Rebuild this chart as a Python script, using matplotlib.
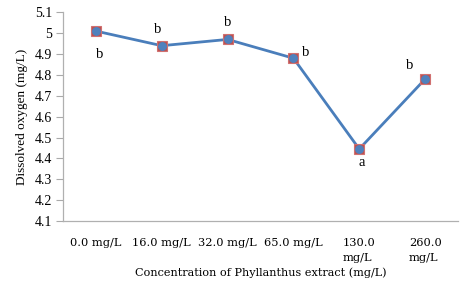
import matplotlib
matplotlib.use("Agg")
import matplotlib.pyplot as plt

categories = ["0.0 mg/L", "16.0 mg/L", "32.0 mg/L", "65.0 mg/L", "130.0\nmg/L", "260.0\nmg/L"]
values = [5.01, 4.94, 4.97, 4.88, 4.445, 4.78]
letters = ["b", "b", "b", "b", "a", "b"]
yticks = [4.1, 4.2, 4.3, 4.4, 4.5, 4.6, 4.7, 4.8, 4.9, 5.0, 5.1]

plt.rcParams['font.family'] = ['Liberation Serif', 'DejaVu Serif']

fig = plt.figure(figsize=(4.64, 2.86), dpi=100)
ax = fig.add_axes([63/464, 1-221/286, (458-63)/464, (221-12.3)/286])

x = list(range(len(categories)))
ax.plot(x, values, color='#4a7ebb', lw=2, zorder=2)
ax.plot(x, values, ls='none', marker='s', ms=7.2, mfc='#c0504d', mec='#d07070', mew=0.8, zorder=3)
ax.plot(x, values, ls='none', marker='o', ms=5.4, mfc='#4f81bd', mec='#4f81bd', zorder=4)

# letter offsets in points (dx, dy)
offsets = [(3, -17), (-3, 12), (0, 12), (9, 4), (2, -10), (-11, 10)]
for xi, v, l, (dx, dy) in zip(x, values, letters, offsets):
    ax.annotate(l, (xi, v), xytext=(dx, dy), textcoords='offset points',
                ha='center', va='center', fontsize=10.5)

ax.set_xlim(-0.5, len(categories) - 0.5)
ax.set_ylim(4.1, 5.1)
ax.set_yticks(yticks)
ax.set_yticklabels([f"{t:g}" for t in yticks], fontsize=10)
ax.set_xticks(x)
ax.set_xticklabels(categories, fontsize=8.2, multialignment='left', family='DejaVu Serif',
                   linespacing=1.6)
ax.tick_params(axis='x', length=0, pad=12.5)
ax.tick_params(axis='y', length=5, color='#aaaaaa', width=0.8, pad=3)
for s in ['top', 'right']:
    ax.spines[s].set_visible(False)
for s in ['left', 'bottom']:
    ax.spines[s].set_color('#b0b0b0')
    ax.spines[s].set_linewidth(0.9)

ax.set_ylabel("Dissolved oxygen (mg/L)", fontsize=9.5, labelpad=5)
ax.set_xlabel("Concentration of Phyllanthus extract (mg/L)", fontsize=8.1, labelpad=3,
              family='DejaVu Serif')

fig.savefig("out.png", dpi=100)
